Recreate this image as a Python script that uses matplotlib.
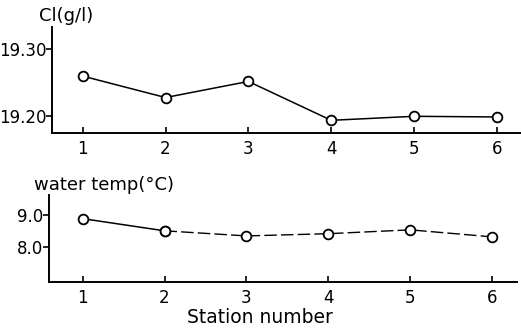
import matplotlib.pyplot as plt
import numpy as np

# data
stations = np.array([1, 2, 3, 4, 5, 6])
chlorinity = np.array([19.26, 19.228, 19.252, 19.194, 19.200, 19.199])
water_temp = np.array([8.88, 8.50, 8.34, 8.41, 8.53, 8.31])

cl_ticks = [19.20, 19.30]
cl_ticklabels = ["19.20", "19.30"]
temp_ticks = [8.0, 9.0]
temp_ticklabels = ["8.0", "9.0"]

plt.rcParams['font.family'] = ['DejaVu Sans']

fig = plt.figure(figsize=(5.21, 3.31), dpi=100)

mk = dict(marker='o', markersize=7, markerfacecolor='white',
          markeredgecolor='black', markeredgewidth=1.3, color='black')


def style(ax):
    ax.spines['top'].set_visible(False)
    ax.spines['right'].set_visible(False)
    ax.spines['left'].set_linewidth(1.4)
    ax.spines['bottom'].set_linewidth(1.4)
    ax.tick_params(axis='y', direction='out', length=4, width=1.2,
                   labelsize=12, pad=0)
    ax.tick_params(axis='x', direction='in', length=4, width=1.2,
                   labelsize=12, pad=5)
    ax.set_xticks(stations)
    ax.set_xticklabels([str(s) for s in stations])


# top: chlorinity
ax1 = fig.add_axes([0.0998, 0.598, 0.9002, 0.32])
ax1.plot(stations, chlorinity, linewidth=1.1, **mk)
ax1.set_xlim(0.63, 6.29)
ax1.set_ylim(19.175, 19.333)
ax1.set_yticks(cl_ticks)
ax1.set_yticklabels(cl_ticklabels)
style(ax1)
fig.text(0.075, 0.952, "Cl(g/l)", fontsize=13, va='center', ha='left')

# bottom: water temperature
ax2 = fig.add_axes([0.094, 0.148, 0.898, 0.263])
ax2.plot(stations[:2], water_temp[:2], linewidth=1.1, **mk)
ax2.plot(stations[1:], water_temp[1:], linewidth=1.0,
         linestyle=(0, (9, 3)), **mk)
ax2.set_xlim(0.59, 6.3)
ax2.set_ylim(6.9, 9.62)
ax2.set_yticks(temp_ticks)
ax2.set_yticklabels(temp_ticklabels)
style(ax2)
fig.text(0.066, 0.44, "water temp(°C)", fontsize=13, va='center', ha='left')
fig.text(0.499, 0.042, "Station number", fontsize=13.5, va='center', ha='center')

fig.savefig("out.png", dpi=100)
